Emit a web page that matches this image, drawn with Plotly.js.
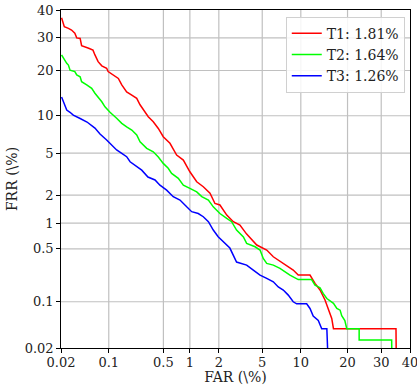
<!DOCTYPE html>
<html>
<head>
<meta charset="utf-8">
<script src="https://cdn.plot.ly/plotly-3.0.1.min.js"></script>
<style>html,body{margin:0;padding:0;background:#fff;}#chart{width:417px;height:385px;}</style>
</head>
<body>
<div id="chart"></div>
<script>
// Values in percent
const tickValues = [0.02, 0.1, 0.5, 1, 2, 5, 10, 20, 30, 40];
const tickLabels = ["0.02", "0.1", "0.5", "1", "2", "5", "10", "20", "30", "40"];
const seriesNames = ["T1: 1.81%", "T2: 1.64%", "T3: 1.26%"];

const t1FAR = [0.0204,0.0225,0.026,0.029,0.0325,0.0347,0.039,0.041,0.052,0.060,0.064,0.071,0.080,0.0935,0.098,0.115,0.135,0.150,0.174,0.203,0.235,0.259,0.285,0.328,0.378,0.435,0.498,0.597,0.712,0.847,1.00,1.185,1.39,1.63,1.83,2.05,2.39,2.76,3.18,3.66,4.49,5.45,6.17,7.40,8.80,9.58,11.6,12.55,13.55,14.6,15.3,16.1,16.5,35.0,35.1];
const t1FRR = [37.1,33.9,33.3,32.7,31.6,30.0,29.8,27.4,26.6,26.0,24.5,22.5,21.3,20.6,19.7,18.8,17.9,16.3,14.7,14.0,13.3,12.0,11.0,9.83,9.0,8.0,6.87,6.06,4.81,4.34,3.39,2.72,2.43,2.09,1.64,1.58,1.23,1.04,0.95,0.75,0.556,0.483,0.399,0.329,0.270,0.232,0.232,0.180,0.146,0.106,0.081,0.0573,0.040,0.040,0.0133];

const t2FAR = [0.0204,0.0217,0.0245,0.026,0.0275,0.0325,0.0347,0.039,0.041,0.0487,0.0575,0.064,0.071,0.080,0.0886,0.104,0.128,0.150,0.174,0.203,0.235,0.259,0.314,0.378,0.435,0.498,0.570,0.624,0.744,0.847,1.00,1.185,1.34,1.57,1.76,2.05,2.39,2.66,2.96,3.42,3.66,4.34,4.79,5.10,5.45,6.17,6.97,8.32,9.58,11.9,12.55,13.55,14.2,15.0,16.5,17.3,18.1,18.5,19.3,19.8,23.2,23.2,33.5,33.6];
const t2FRR = [24.5,23.5,22.0,21.5,20.1,19.7,18.8,18.35,17.1,16.3,15.5,14.4,13.6,12.6,11.6,10.6,9.57,8.76,8.24,7.77,7.09,6.25,5.49,5.13,4.62,4.05,3.65,3.27,2.94,2.52,2.34,2.16,1.93,1.78,1.51,1.28,1.13,1.04,0.836,0.693,0.582,0.530,0.483,0.380,0.329,0.313,0.284,0.232,0.202,0.202,0.170,0.157,0.131,0.111,0.095,0.080,0.0757,0.063,0.0533,0.040,0.040,0.0267,0.0267,0.0133];

const t3FAR = [0.0204,0.0225,0.0245,0.0275,0.0308,0.039,0.0492,0.064,0.0755,0.0935,0.110,0.128,0.150,0.174,0.193,0.235,0.272,0.325,0.397,0.455,0.546,0.651,0.777,0.923,1.047,1.23,1.39,1.57,1.76,1.97,2.13,2.56,2.96,3.66,4.19,4.79,5.45,6.17,6.76,7.40,8.08,8.80,9.33,11.0,11.6,12.2,13.2,13.9,15.0,15.25];
const t3FRR = [13.6,12.0,11.0,10.6,10.1,9.53,8.97,8.06,7.22,6.45,5.86,5.32,4.98,4.65,4.19,3.77,3.51,3.02,2.83,2.52,2.25,1.93,1.78,1.51,1.34,1.28,1.18,1.04,0.836,0.698,0.637,0.511,0.342,0.313,0.270,0.232,0.210,0.189,0.161,0.146,0.124,0.0998,0.0933,0.0933,0.08,0.062,0.0533,0.04,0.04,0.0133];

// Inverse normal CDF (Acklam) — probit scale used by DET plots
function ppf(p) {
  const a=[-3.969683028665376e+01,2.209460984245205e+02,-2.759285104469687e+02,1.383577518672690e+02,-3.066479806614716e+01,2.506628277459239e+00];
  const b=[-5.447609879822406e+01,1.615858368580409e+02,-1.556989798598866e+02,6.680131188771972e+01,-1.328068155288572e+01];
  const c=[-7.784894002430293e-03,-3.223964580411365e-01,-2.400758277161838e+00,-2.549732539343734e+00,4.374664141464968e+00,2.938163982698783e+00];
  const d=[7.784695709041462e-03,3.224671290700398e-01,2.445134137142996e+00,3.754408661907416e+00];
  const pl=0.02425, ph=1-pl;
  let q,r;
  if (p<pl){q=Math.sqrt(-2*Math.log(p));return (((((c[0]*q+c[1])*q+c[2])*q+c[3])*q+c[4])*q+c[5])/((((d[0]*q+d[1])*q+d[2])*q+d[3])*q+1);}
  if (p<=ph){q=p-0.5;r=q*q;return (((((a[0]*r+a[1])*r+a[2])*r+a[3])*r+a[4])*r+a[5])*q/(((((b[0]*r+b[1])*r+b[2])*r+b[3])*r+b[4])*r+1);}
  q=Math.sqrt(-2*Math.log(1-p));return -(((((c[0]*q+c[1])*q+c[2])*q+c[3])*q+c[4])*q+c[5])/((((d[0]*q+d[1])*q+d[2])*q+d[3])*q+1);
}
const pz = v => ppf(v/100);

const colors = ["#ff0000", "#00ff00", "#0000ff"];
const fars = [t1FAR, t2FAR, t3FAR];
const frrs = [t1FRR, t2FRR, t3FRR];

const tickFont = {family: "DejaVu Serif", size: 13, color: "#222"};
const font = {family: "DejaVu Serif", size: 14, color: "#222"};
const tz = tickValues.map(pz);
const rng = [pz(0.02), pz(40)];
const gridColor = "#c0c0c0";
const inner = tz.slice(1, -1);

// horizontal grid drawn as a plain line layer under the curves (not in legend)
const hx = [], hy = [];
inner.forEach(t => { hx.push(rng[0], rng[1], null); hy.push(t, t, null); });
const gridTrace = {
  x: hx, y: hy, type: "scatter", mode: "lines", showlegend: false, hoverinfo: "skip",
  line: {color: gridColor, width: 1.2}, connectgaps: false
};

const traces = [gridTrace].concat(fars.map((f, i) => ({
  x: f.map(pz), y: frrs[i].map(pz),
  type: "scatter", mode: "lines", name: seriesNames[i],
  line: {color: colors[i], width: 1.5},
  hoverinfo: "skip"
})));

// vertical grid at the probit-scaled tick positions
const vPath = inner.map(t => `M${t},${rng[0]} L${t},${rng[1]}`).join(" ");
const shapes = [
  {type: "path", layer: "below", xref: "x", yref: "y", path: vPath, line: {color: gridColor, width: 1.2}}
];

const axisCommon = {
  range: rng, autorange: false, tickmode: "array", tickvals: tz, ticktext: tickLabels,
  showgrid: false,
  zeroline: false, showline: true, linecolor: "#000", linewidth: 1.3, mirror: true,
  ticks: "outside", ticklen: 3.5, tickwidth: 1, tickcolor: "#000", tickfont: tickFont,
  ticklabeloverflow: "allow"
};

const layout = {
  width: 417, height: 385,
  margin: {l: 61, r: 7, t: 10, b: 37},
  paper_bgcolor: "#fff", plot_bgcolor: "rgba(0,0,0,0)",
  font: font,
  showlegend: true,
  shapes: shapes,
  legend: {x: 0.985, xanchor: "right", y: 0.98, yanchor: "top",
    bgcolor: "rgba(255,255,255,0.85)", bordercolor: "#d0d0d0", borderwidth: 1,
    font: font, tracegroupgap: 0},
  xaxis: Object.assign({}, axisCommon, {ticklabelstandoff: -1, title: {text: "FAR (\\%)", font: font, standoff: 1}}),
  yaxis: Object.assign({}, axisCommon, {title: {text: "FRR (\\%)", font: font, standoff: 3}})
};

Plotly.newPlot("chart", traces, layout, {displayModeBar: false, staticPlot: true});
</script>
</body>
</html>
